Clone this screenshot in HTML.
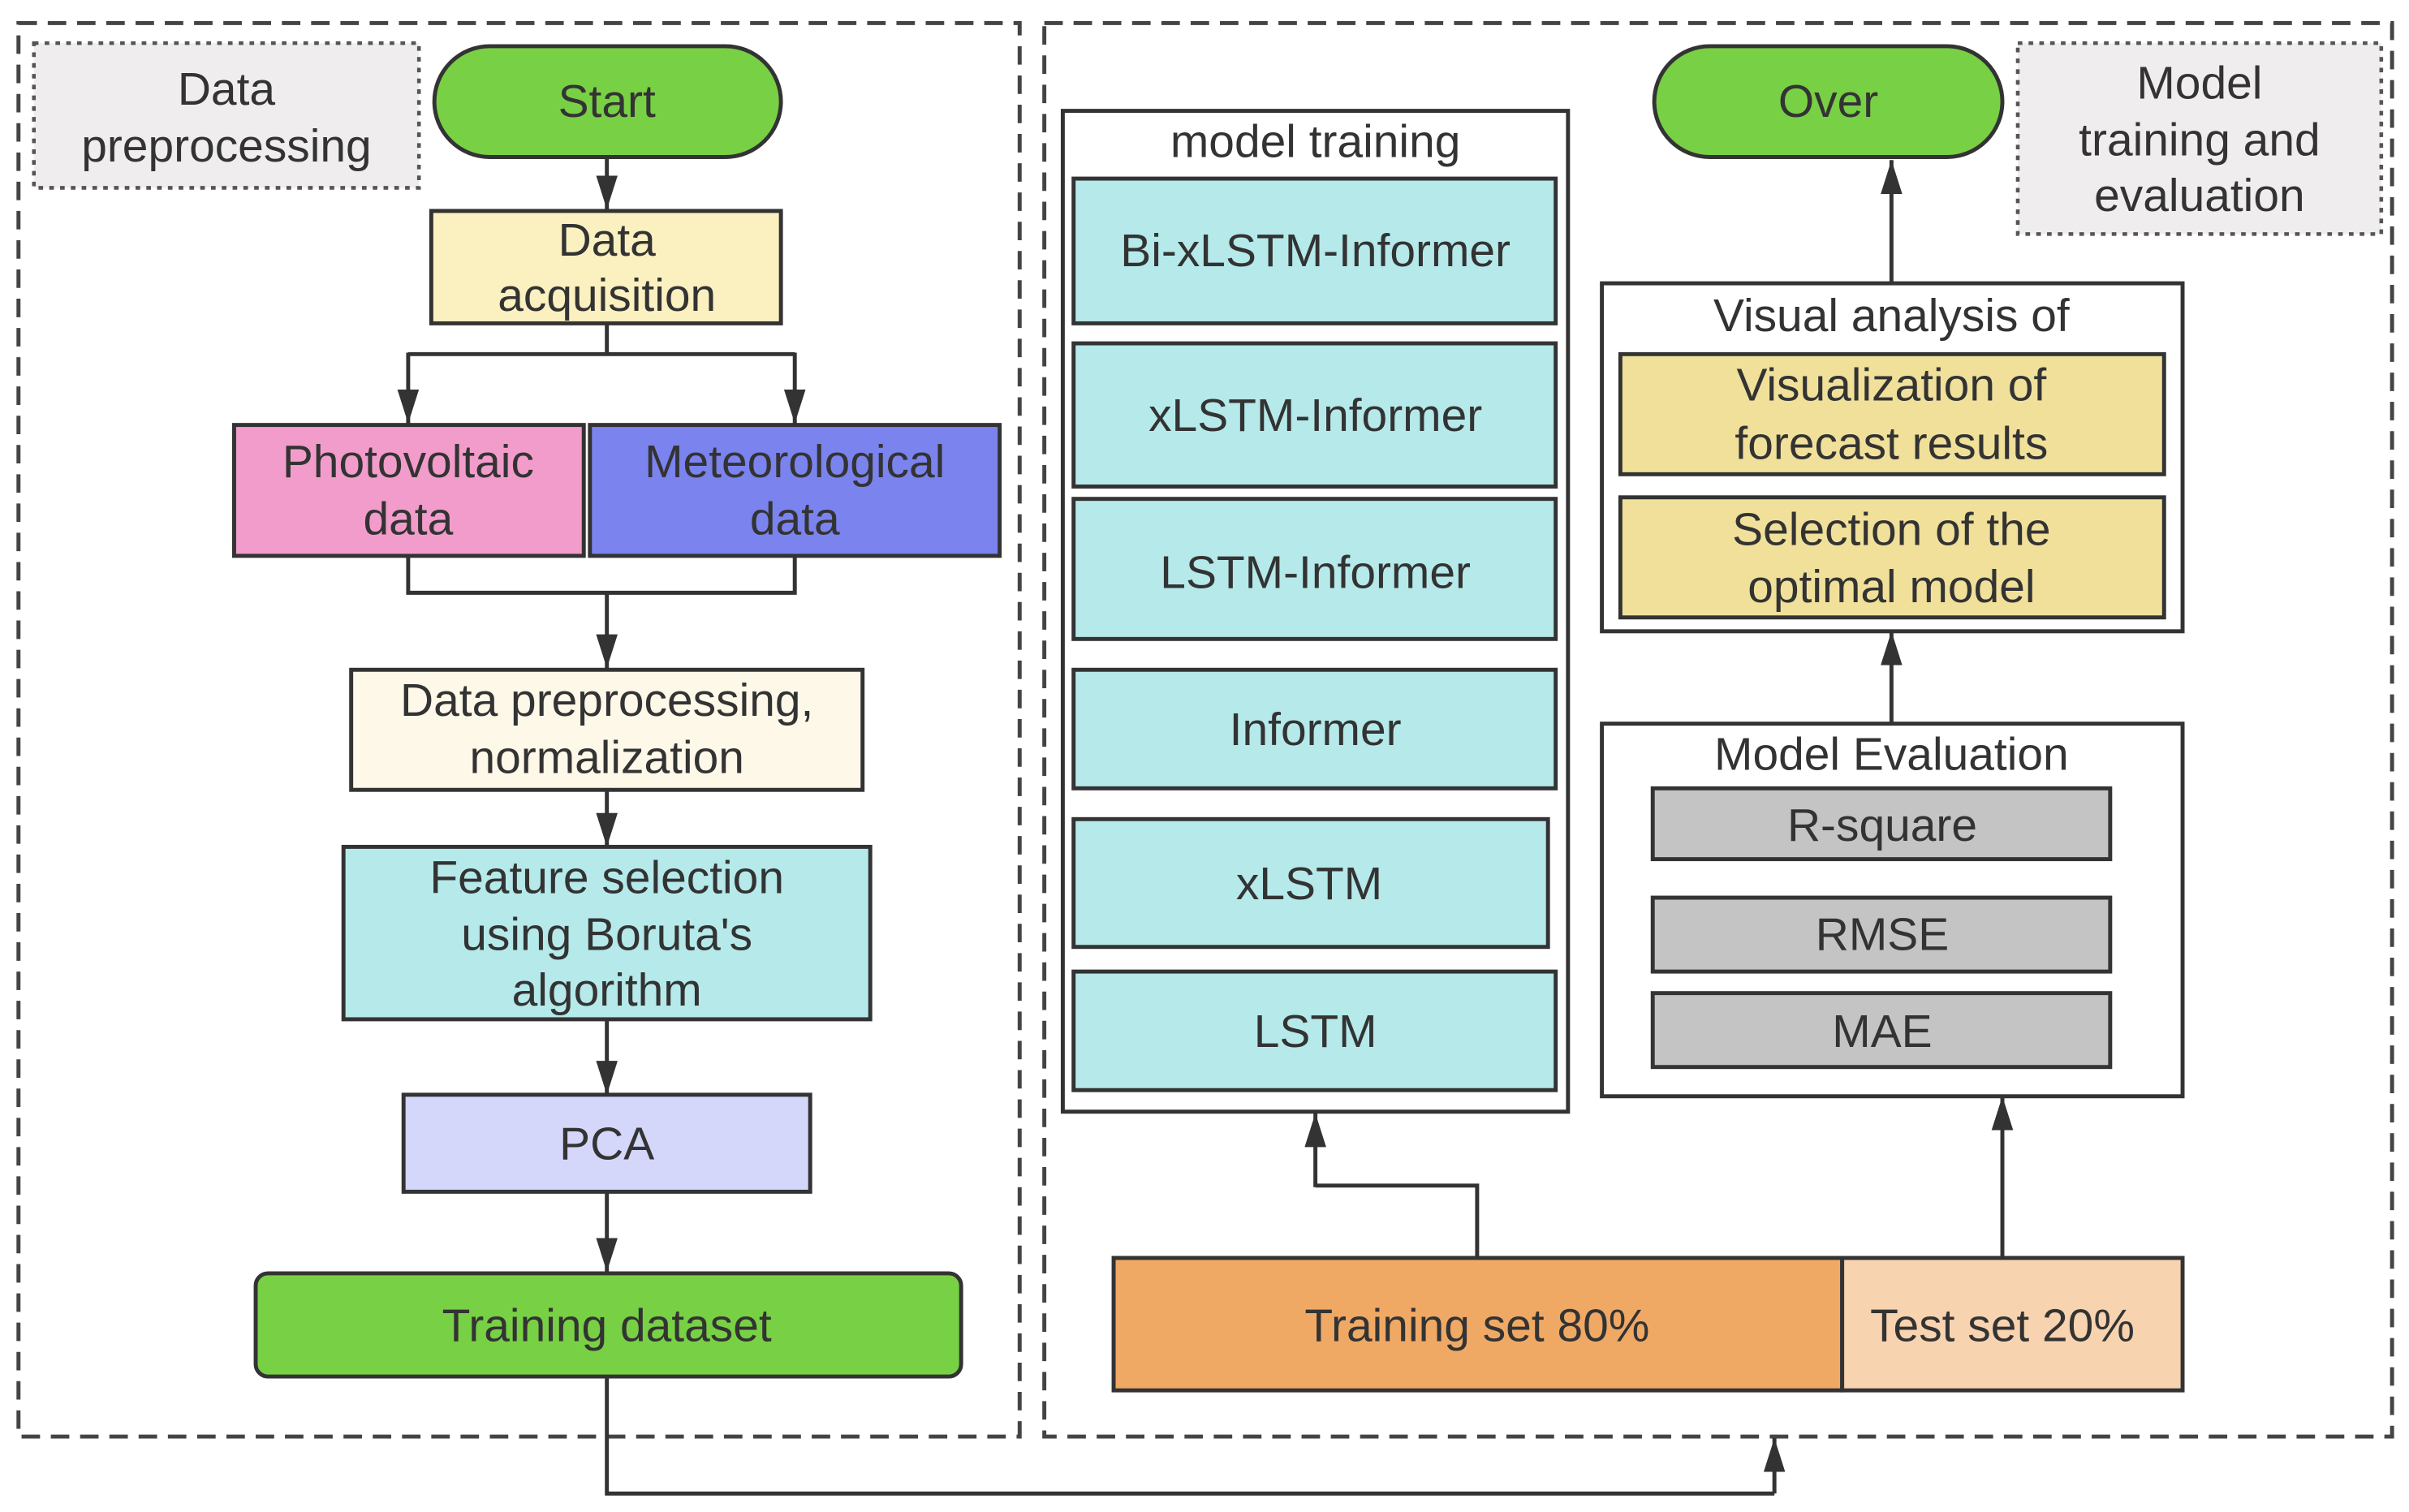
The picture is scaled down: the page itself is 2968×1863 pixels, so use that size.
<!DOCTYPE html>
<html><head><meta charset="utf-8"><style>
html,body{margin:0;padding:0;background:#fff;}
svg{display:block;}
text{font-family:"Liberation Sans",sans-serif;font-size:30px;fill:#333;text-anchor:middle;dominant-baseline:central;}
.b{stroke:#333;stroke-width:2.6;}
.l{stroke:#333;stroke-width:2.6;fill:none;}
</style></head><body>
<svg width="2968" height="1863" viewBox="0 0 1564 982" preserveAspectRatio="none" xmlns="http://www.w3.org/2000/svg">
<defs>
<marker id="ar" markerWidth="22" markerHeight="14" refX="22" refY="7" orient="auto" markerUnits="userSpaceOnUse" viewBox="0 0 22 14"><path d="M0,0 L22,7 L0,14 z" fill="#333"/></marker></defs>
<rect x="12" y="15" width="650" height="918" fill="none" stroke="#444" stroke-width="2.6" stroke-dasharray="12,7"/>
<rect x="678" y="15" width="875" height="918" fill="none" stroke="#444" stroke-width="2.6" stroke-dasharray="12,7"/>
<rect x="22" y="28" width="250" height="94" fill="#efeded" stroke="#555" stroke-width="2.4" stroke-dasharray="3,4"/>
<text x="147" y="58">Data</text><text x="147" y="95">preprocessing</text>
<rect x="1310" y="28" width="236" height="124" fill="#efeded" stroke="#555" stroke-width="2.4" stroke-dasharray="3,4"/>
<text x="1428" y="54">Model</text><text x="1428" y="91">training and</text><text x="1428" y="127">evaluation</text>
<rect x="282" y="30" width="225" height="72" rx="36" fill="#78d045" class="b"/><text x="394" y="66">Start</text>
<line x1="394" y1="102" x2="394" y2="136" class="l" marker-end="url(#ar)"/>
<rect x="280" y="137" width="227" height="73" fill="#fbf0c0" class="b"/><text x="394" y="156">Data</text><text x="394" y="192">acquisition</text>
<path d="M394,210 V230 M265,230 H516" class="l"/>
<line x1="265" y1="229" x2="265" y2="275" class="l" marker-end="url(#ar)"/>
<line x1="516" y1="229" x2="516" y2="275" class="l" marker-end="url(#ar)"/>
<rect x="152" y="276" width="227" height="85" fill="#f29ccb" class="b"/><text x="265" y="300">Photovoltaic</text><text x="265" y="337">data</text>
<rect x="383" y="276" width="266" height="85" fill="#7b83ee" class="b"/><text x="516" y="300">Meteorological</text><text x="516" y="337">data</text>
<path d="M265,361 V385 H516 V361" class="l"/>
<line x1="394" y1="385" x2="394" y2="434" class="l" marker-end="url(#ar)"/>
<rect x="228" y="435" width="332" height="78" fill="#fdf8e8" class="b"/><text x="394" y="455">Data preprocessing,</text><text x="394" y="492">normalization</text>
<line x1="394" y1="513" x2="394" y2="550" class="l" marker-end="url(#ar)"/>
<rect x="223" y="550" width="342" height="112" fill="#b5e9ea" class="b"/><text x="394" y="570">Feature selection</text><text x="394" y="607">using Boruta's</text><text x="394" y="643">algorithm</text>
<line x1="394" y1="662" x2="394" y2="711" class="l" marker-end="url(#ar)"/>
<rect x="262" y="711" width="264" height="63" fill="#d4d6fa" class="b"/><text x="394" y="743">PCA</text>
<line x1="394" y1="774" x2="394" y2="826" class="l" marker-end="url(#ar)"/>
<rect x="166" y="827" width="458" height="67" rx="8" fill="#78d045" class="b"/><text x="394" y="861">Training dataset</text>
<path d="M394,894 V970 H1152" class="l"/>
<line x1="1152" y1="970" x2="1152" y2="934" class="l" marker-end="url(#ar)"/>
<rect x="690" y="72" width="328" height="650" fill="#fff" class="b"/><text x="854" y="92">model training</text>
<rect x="697" y="116" width="313" height="94" fill="#b5e9ea" class="b"/><text x="854" y="163">Bi-xLSTM-Informer</text>
<rect x="697" y="223" width="313" height="93" fill="#b5e9ea" class="b"/><text x="854" y="270">xLSTM-Informer</text>
<rect x="697" y="324" width="313" height="91" fill="#b5e9ea" class="b"/><text x="854" y="372">LSTM-Informer</text>
<rect x="697" y="435" width="313" height="77" fill="#b5e9ea" class="b"/><text x="854" y="474">Informer</text>
<rect x="697" y="532" width="308" height="83" fill="#b5e9ea" class="b"/><text x="850" y="574">xLSTM</text>
<rect x="697" y="631" width="313" height="77" fill="#b5e9ea" class="b"/><text x="854" y="670">LSTM</text>
<rect x="1074" y="30" width="226" height="72" rx="36" fill="#78d045" class="b"/><text x="1187" y="66">Over</text>
<line x1="1228" y1="184" x2="1228" y2="104" class="l" marker-end="url(#ar)"/>
<rect x="1040" y="184" width="377" height="226" fill="#fff" class="b"/><text x="1228" y="205">Visual analysis of</text>
<rect x="1052" y="230" width="353" height="78" fill="#f0e09a" class="b"/><text x="1228" y="250">Visualization of</text><text x="1228" y="288">forecast results</text>
<rect x="1052" y="323" width="353" height="78" fill="#f0e09a" class="b"/><text x="1228" y="344">Selection of the</text><text x="1228" y="381">optimal model</text>
<line x1="1228" y1="470" x2="1228" y2="410" class="l" marker-end="url(#ar)"/>
<rect x="1040" y="470" width="377" height="242" fill="#fff" class="b"/><text x="1228" y="490">Model Evaluation</text>
<rect x="1073" y="512" width="297" height="46" fill="#c4c4c4" class="b"/><text x="1222" y="536">R-square</text>
<rect x="1073" y="583" width="297" height="48" fill="#c4c4c4" class="b"/><text x="1222" y="607">RMSE</text>
<rect x="1073" y="645" width="297" height="48" fill="#c4c4c4" class="b"/><text x="1222" y="670">MAE</text>
<rect x="723" y="817" width="473" height="86" fill="#f0a965" class="b"/><text x="959" y="861">Training set 80%</text>
<rect x="1196" y="817" width="221" height="86" fill="#f8d3b0" class="b"/><text x="1300" y="861">Test set 20%</text>
<path d="M959,817 V770 H854" class="l"/>
<line x1="854" y1="771" x2="854" y2="723" class="l" marker-end="url(#ar)"/>
<line x1="1300" y1="817" x2="1300" y2="712" class="l" marker-end="url(#ar)"/>
</svg>
</body></html>
